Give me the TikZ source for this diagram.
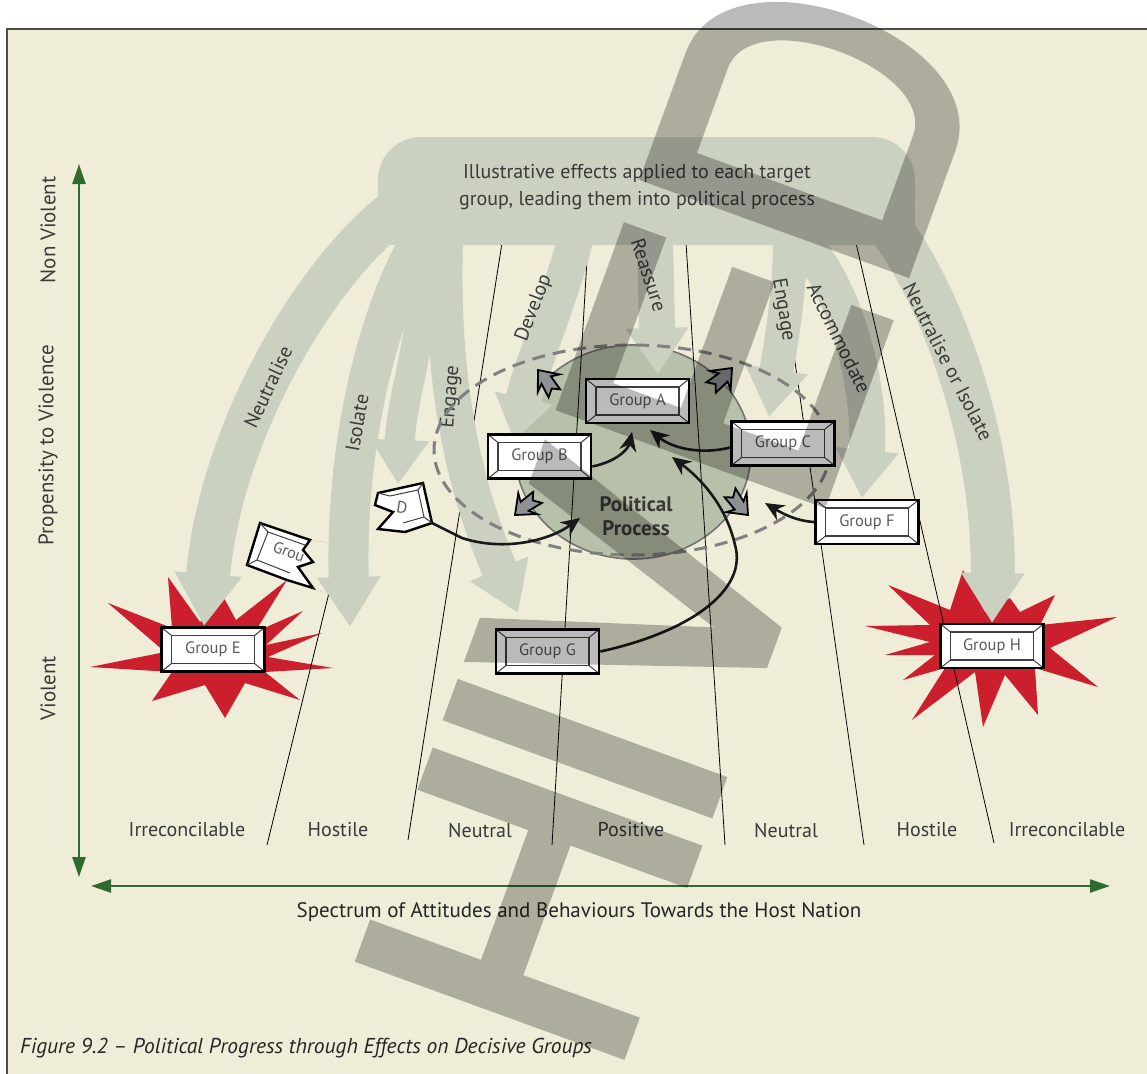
\documentclass[tikz,border=0pt]{standalone}
\usepackage{fontspec}
\setmainfont{PT Sans}
\usetikzlibrary{arrows.meta,shapes.geometric}
\definecolor{cream}{HTML}{EFECD8}
\definecolor{sage}{HTML}{CBD1C1}
\definecolor{procfill}{HTML}{B7C0A8}
\definecolor{axisgreen}{HTML}{2F6A2E}
\definecolor{starred}{HTML}{CC1F2D}
\definecolor{txtgray}{HTML}{3A3A3A}
\definecolor{boxtxt}{HTML}{5A5A5A}
\definecolor{blockgray}{HTML}{8E9092}
\newcommand\blockarrow[3]{%
  \filldraw[blockarr, shift={(#1,#2)}, rotate=#3] (0,0) -- (-17,-14) -- (-13,-6) -- (-28,-9) -- (-23,-1) -- (-29,5) -- (-13,6) -- (-17,14) -- cycle;}
\begin{document}
\begin{tikzpicture}[x=1pt,y=-1pt,
  sagearr/.style={draw=sage, line width=#1},
  lbl/.style={text=txtgray, font=\fontsize{20}{24}\selectfont, inner sep=0pt},
  divline/.style={draw=black, line width=0.8pt},
  gbox/.style={draw=black, line width=2.6pt, fill=white, minimum width=103pt, minimum height=44pt, inner sep=0pt,
     text=boxtxt, font=\fontsize{16.5}{18}\selectfont,
     path picture={
       \draw[line width=1.2pt, black!75] ([shift={(10pt,-8pt)}]path picture bounding box.north west) rectangle ([shift={(-10pt,8pt)}]path picture bounding box.south east);
       \draw[line width=1pt, black!75] (path picture bounding box.north west) -- ([shift={(10pt,-8pt)}]path picture bounding box.north west);
       \draw[line width=1pt, black!75] (path picture bounding box.north east) -- ([shift={(-10pt,-8pt)}]path picture bounding box.north east);
       \draw[line width=1pt, black!75] (path picture bounding box.south west) -- ([shift={(10pt,8pt)}]path picture bounding box.south west);
       \draw[line width=1pt, black!75] (path picture bounding box.south east) -- ([shift={(-10pt,8pt)}]path picture bounding box.south east);
     }},
  conn/.style={draw=black!90, line width=2.6pt, -{Stealth[length=19pt,width=17pt]}},
  blockarr/.style={fill=blockgray, draw=black, line width=1.8pt, line join=miter},
  axis/.style={draw=axisgreen, line width=2.4pt, {Triangle[length=20pt,width=13pt]}-{Triangle[length=20pt,width=13pt]}},
  torn/.style={fill=white, draw=black, line width=2.4pt, line join=miter},
  wmark/.style={fill=black, opacity=0.27, even odd rule}
]
\useasboundingbox (0,0) rectangle (1147,1073);
\fill[white] (0,0) rectangle (1147,1073);
\filldraw[fill=cream, draw=black!70, line width=1.5pt] (7,29) rectangle (1170,1100);

% explosion stars
\fill[starred] (90,667) -- (165,652) -- (108,603) -- (172,628) -- (168,577) -- (200,622) -- (224,598) -- (236,620) -- (287,580) -- (255,632) -- (303,611) -- (266,645) -- (322,633) -- (268,657) -- (333,668) -- (265,672) -- (300,700) -- (245,683) -- (225,718) -- (205,685) -- (152,701) -- (172,672) -- cycle;
\fill[starred] (865,626) -- (930,625) -- (888,585) -- (950,610) -- (963,570) -- (985,612) -- (1010,598) -- (1020,612) -- (1055,595) -- (1040,625) -- (1117,617) -- (1050,648) -- (1098,687) -- (1035,668) -- (1038,715) -- (1005,675) -- (983,727) -- (975,672) -- (912,720) -- (945,668) -- (903,680) -- (935,655) -- (885,655) -- (930,642) -- cycle;

% political process ellipse
\node[ellipse, fill=procfill, draw=black!55, line width=1.6pt, minimum width=236pt, minimum height=214pt, inner sep=0pt] (P) at (633,452) {};

% divider lines
\coordinate (l1a) at (415,243); \coordinate (l1b) at (267,845);
\coordinate (l2a) at (502,243); \coordinate (l2b) at (408,840);
\coordinate (l3a) at (588,243); \coordinate (l3b) at (552,845);
\coordinate (l4a) at (686,243); \coordinate (l4b) at (725,845);
\coordinate (l5a) at (778,243); \coordinate (l5b) at (864,845);
\coordinate (l6a) at (856,243); \coordinate (l6b) at (994,843);
\foreach \i in {1,...,6} {\draw[divline] (l\i a) -- (l\i b);}

% banner and effect arrows
\fill[sage, rounded corners=43pt] (378,137) rectangle (915,245);
\fill[sage] (378,200) rectangle (915,245);
\draw[sagearr=44pt, -{Triangle[length=52pt,width=64pt]}] (410,200) .. controls (320,260) and (220,430) .. (204,626);
\draw[sagearr=40pt, -{Triangle[length=50pt,width=60pt]}] (430,225) .. controls (380,300) and (345,440) .. (350,627);
\draw[sagearr=30pt, -{Triangle[length=44pt,width=56pt]}] (425,240) .. controls (428,330) and (402,390) .. (398,484);
\draw[sagearr=36pt, -{Triangle[length=48pt,width=60pt]}] (445,240) .. controls (440,400) and (470,500) .. (518,613);
\draw[sagearr=36pt, -{Triangle[length=44pt,width=56pt]}] (575,240) .. controls (560,300) and (530,370) .. (514,441);
\draw[sagearr=36pt, -{Triangle[length=46pt,width=60pt]}] (655,240) -- (658,374);
\draw[sagearr=34pt, -{Triangle[length=48pt,width=60pt]}] (790,240) .. controls (790,300) and (778,360) .. (769,417);
\draw[sagearr=36pt, -{Triangle[length=48pt,width=60pt]}] (800,240) .. controls (850,290) and (872,400) .. (862,498);
\draw[sagearr=44pt, -{Triangle[length=50pt,width=60pt]}] (860,195) .. controls (925,250) and (995,420) .. (992,623);

\node[lbl, align=center, font=\fontsize{20}{27}\selectfont] (title) at (637,187) {Illustrative effects applied to each target\\group, leading them into political process};
\node[lbl, rotate=65] (tNeut) at (268,387) {Neutralise};
\node[lbl, rotate=80] (tIso) at (357,423) {Isolate};
\node[lbl, rotate=85] (tEng1) at (451,397) {Engage};
\node[lbl, rotate=69] (tDev) at (534,308) {Develop};
\node[lbl, rotate=-72] (tReas) at (649,275) {Reassure};
\node[lbl, rotate=-81] (tEng2) at (783,310) {Engage};
\node[lbl, rotate=-64] (tAcc) at (839,338) {Accommodate};
\node[lbl, rotate=-63] (tNI) at (948,362) {Neutralise or Isolate};

% dashed outer ellipse
\draw[draw=black!50, line width=3pt, dash pattern=on 13pt off 8pt] (632,450) ellipse [x radius=198, y radius=105];

\node[font=\bfseries\fontsize{21}{23.5}\selectfont, text=txtgray, align=center, inner sep=0pt] (ptext) at (636,516) {Political\\Process};

% groups
\node[gbox] (A) at (637.5,401) {Group A};
\node[gbox] (B) at (539.5,456.5) {Group B};
\node[gbox] (C) at (783,443.5) {Group C};
\node[gbox] (F) at (867,522) {Group F};
\node[gbox] (G) at (547.5,651.5) {Group G};
\node[gbox] (E) at (213,649.5) {Group E};
\node[gbox] (H) at (992,646) {Group H};

% torn pieces
\filldraw[torn] (378,493) -- (423,483) -- (432,523) -- (405,532) -- (378,529) -- (393,512) -- (375,505) -- cycle;
\draw[line width=1pt, black!75] (390,496) -- (418,490) -- (424,517) -- (403,523);
\draw[line width=1pt, black!75] (423,483) -- (418,490) (432,523) -- (424,517) (378,493) -- (390,496);
\node[text=boxtxt, font=\fontsize{16.5}{18}\selectfont, inner sep=0pt, rotate=-8] (D) at (402,508) {D};
\coordinate (Dtail) at (432,523);

\filldraw[torn] (260,523) -- (310,540) -- (303,550) -- (313,562) -- (298,567) -- (313,588) -- (287,580) -- (247,565) -- cycle;
\draw[line width=1pt, black!75] (268,532) -- (305,545) (268,532) -- (257,560) -- (290,573);
\draw[line width=1pt, black!75] (260,523) -- (268,532) (247,565) -- (257,560);
\node[text=boxtxt, font=\fontsize{16}{18}\selectfont, inner sep=0pt, rotate=-21] (Gp) at (289,552) {Grou};
\draw[black!40, line width=0.6pt, dotted] (312,540) -- (328,543);
\draw[black!40, line width=0.6pt, dotted] (313,588) -- (330,595);

% black connectors
\coordinate (tipBA) at (632,432);
\coordinate (tipCA) at (650,430);
\coordinate (tipGP) at (672,457);
\coordinate (tipFP) at (765,503);
\coordinate (tipDP) at (580,518);
\draw[conn] ([yshift=-10pt]B.east) .. controls (615,462) and (628,450) .. (tipBA);
\draw[conn] ([yshift=-4pt]C.west) .. controls (700,455) and (672,448) .. (tipCA);
\draw[conn] (G.east) .. controls (690,632) and (748,590) .. (735,545) .. controls (726,505) and (700,478) .. (tipGP);
\draw[conn] (F.west) .. controls (795,521) and (780,512) .. (tipFP);
\draw[conn] (Dtail) -- (462,538) .. controls (505,552) and (550,540) .. (tipDP);

% outward block arrows
\blockarrow{538}{370}{129}
\blockarrow{732}{368}{47}
\blockarrow{515}{515}{222}
\blockarrow{748}{515}{-47}

% axes
\draw[axis] (79,164) -- (79,877);
\draw[axis] (91,886) -- (1110,886);
\node[lbl, rotate=90, font=\fontsize{21}{24}\selectfont] (nv) at (48,230) {Non Violent};
\node[lbl, rotate=90, font=\fontsize{21}{24}\selectfont] (pv) at (48,445) {Propensity to Violence};
\node[lbl, rotate=90, font=\fontsize{21}{24}\selectfont] (vi) at (48,688) {Violent};

\node[lbl] (s1) at (187,830) {Irreconcilable};
\node[lbl] (s2) at (338,830) {Hostile};
\node[lbl] (s3) at (480,830) {Neutral};
\node[lbl] (s4) at (631,830) {Positive};
\node[lbl] (s5) at (786,830) {Neutral};
\node[lbl] (s6) at (927,830) {Hostile};
\node[lbl] (s7) at (1067,830) {Irreconcilable};
\node[lbl, text=black!85, font=\fontsize{21}{24}\selectfont] (spec) at (579,912) {Spectrum of Attitudes and Behaviours Towards the Host Nation};
\node[lbl, text=black!85, anchor=west, font=\itshape\fontsize{21.5}{24}\selectfont] (cap) at (20,1048) {Figure 9.2 – Political Progress through Effects on Decisive Groups};

% translucent watermark lettering laid over the figure
\begin{scope}[shift={(697,153)}, rotate=70, y=1pt]
\fill[wmark]
  % H
  (-877,-242) -- (-877,45) -- (-832,45) -- (-832,-73) -- (-694,-73) -- (-694,45) -- (-649,45) -- (-649,-242) -- (-694,-242) -- (-694,-118) -- (-832,-118) -- (-832,-242) -- cycle
  % I
  (-620,-242) -- (-620,45) -- (-576,45) -- (-576,-242) -- cycle
  % V
  (-558,45) -- (-511,45) -- (-440,-178) -- (-368,45) -- (-321,45) -- (-417,-242) -- (-460,-242) -- cycle
  % E
  (-290,-242) -- (-290,45) -- (-90,45) -- (-90,0) -- (-245,0) -- (-245,-72) -- (-95,-72) -- (-95,-117) -- (-245,-117) -- (-245,-197) -- (-90,-197) -- (-90,-242) -- cycle
  % D
  (-45,-242) -- (-45,45) -- (90,45) .. controls (212,45) and (212,-242) .. (90,-242) -- cycle
  (0,0) -- (90,0) .. controls (162,0) and (162,-197) .. (90,-197) -- (0,-197) -- cycle;
\end{scope}
\end{tikzpicture}
\end{document}
